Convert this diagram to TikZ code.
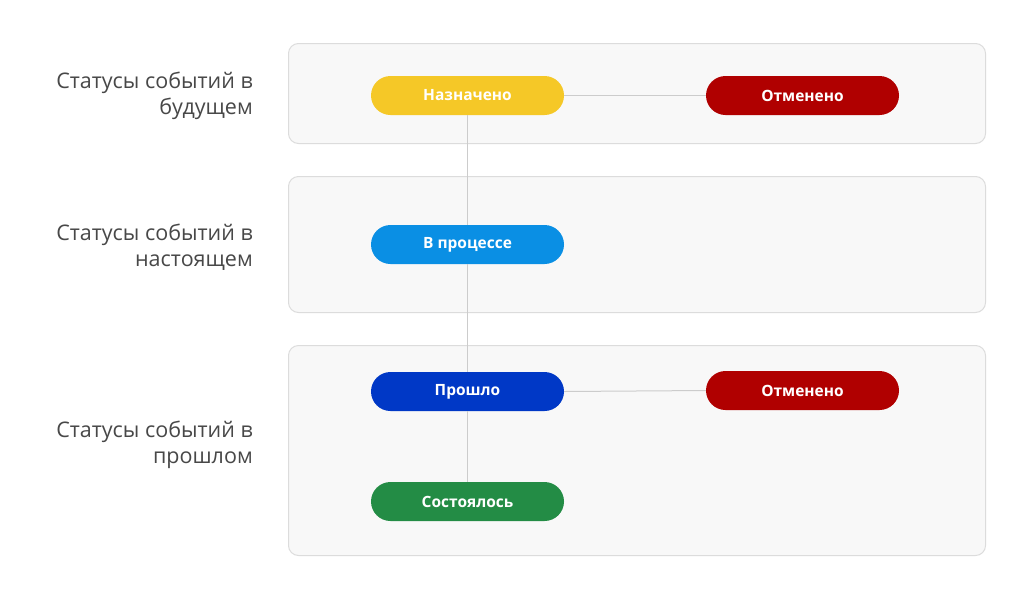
\documentclass[tikz,border=0pt]{standalone}
\usepackage{fontspec}
\setmainfont{Open Sans}
\usetikzlibrary{positioning}
\definecolor{zuta}{HTML}{F5C827}
\definecolor{crvena}{HTML}{B00000}
\definecolor{plava}{HTML}{0A8FE4}
\definecolor{tamnoplava}{HTML}{0038C6}
\definecolor{zelena}{HTML}{238C45}
\definecolor{okvirrub}{HTML}{DCDCDC}
\definecolor{okvirpoz}{HTML}{F8F8F8}
\definecolor{linija}{HTML}{CCCCCC}
\definecolor{tekst}{HTML}{484848}
\tikzset{
okvir/.style={draw=okvirrub,fill=okvirpoz,line width=1pt,rounded corners=10pt,minimum width=697pt,anchor=north west},
status/.style={rounded corners=19.5pt,minimum width=193pt,minimum height=39pt,text=white,font=\bfseries\fontsize{15.5}{18}\selectfont},
natpis/.style={anchor=east,align=right,inner sep=0pt,text=tekst,font=\fontsize{21.5}{26}\selectfont},
veza/.style={draw=linija,line width=1pt}
}
\begin{document}
\begin{tikzpicture}[x=1pt,y=-1pt]
\useasboundingbox[fill=white] (0,0) rectangle (1024,603);
\draw (288,43) node(buducnost)[okvir,minimum height=100pt] {};
\draw (288,176) node(sadasnjost)[okvir,minimum height=136pt] {};
\draw (288,345) node(proslost)[okvir,minimum height=210pt] {};
\draw (253,96) node(nbuducnost)[natpis] {Статусы событий в\\будущем};
\draw (253,247) node(nsadasnjost)[natpis] {Статусы событий в\\настоящем};
\draw (253,445) node(nproslost)[natpis] {Статусы событий в\\прошлом};
\draw (467.5,95.5) node(naznaceno)[status,fill=zuta] {Назначено};
\draw (802.5,95.5) node(otmenjeno1)[status,fill=crvena] {Отменено};
\draw (467.5,244.5) node(uprocesu)[status,fill=plava] {В процессе};
\draw (467.5,391.5) node(proslo)[status,fill=tamnoplava] {Прошло};
\draw (802.5,390.5) node(otmenjeno2)[status,fill=crvena] {Отменено};
\draw (467.5,501.5) node(dogodilo)[status,fill=zelena] {Состоялось};
\draw[veza] (naznaceno.east) -- (otmenjeno1.west);
\draw[veza] (naznaceno.south) -- (uprocesu.north);
\draw[veza] (uprocesu.south) -- (proslo.north);
\draw[veza] (proslo.east) -- (otmenjeno2.west);
\draw[veza] (proslo.south) -- (dogodilo.north);
\end{tikzpicture}
\end{document}
